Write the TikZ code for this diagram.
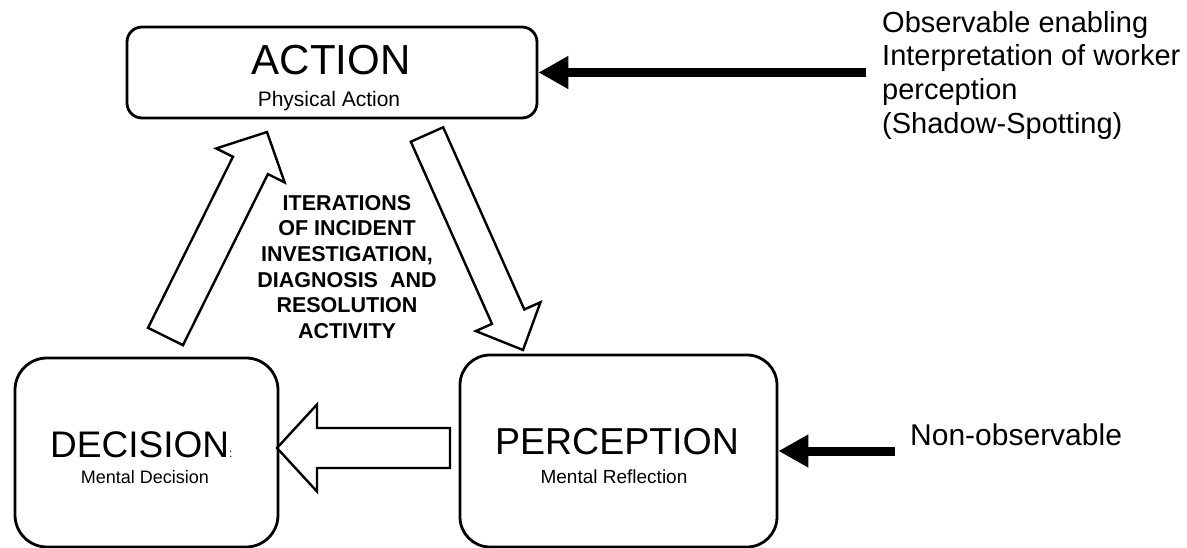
\documentclass[tikz,border=0pt]{standalone}
\usepackage{fontspec}
\setmainfont{Liberation Sans}
\usetikzlibrary{arrows.meta}
\newcommand\fsz[1]{\fontsize{#1pt}{#1pt}\selectfont}
% block arrow: tail x,y ; tip x,y ; shaft half width ; head half width ; head length
\newcommand\blockarrow[7]{%
  \pgfmathsetmacro\baDX{#3-#1}%
  \pgfmathsetmacro\baDY{#4-#2}%
  \pgfmathsetmacro\baAng{atan2(-\baDY,\baDX)}%
  \pgfmathsetmacro\baLen{veclen(\baDX,\baDY)}%
  \begin{scope}[shift={(#1,#2)}, rotate=\baAng]
    \draw[blockarr] (0,-#5) -- (\baLen-#7,-#5) -- (\baLen-#7,-#6) -- (\baLen,0)
      -- (\baLen-#7,#6) -- (\baLen-#7,#5) -- (0,#5) -- cycle;
  \end{scope}}
\begin{document}
\begin{tikzpicture}[x=1pt,y=-1pt,
  box/.style={draw, line width=2.8pt, rounded corners=#1, inner sep=0pt},
  blockarr/.style={draw, line width=2.4pt, fill=white, line join=miter},
  blackarr/.style={line width=9pt, -{Triangle[length=30pt,width=31pt]}},
  lbl/.style={inner sep=0pt, anchor=base}]
\useasboundingbox (0,0) rectangle (1187,548);
\fill[white] (0,0) rectangle (1187,548);

% boxes
\node[box=15pt, minimum width=410pt, minimum height=91pt] (action) at (332,72.5) {};
\node[box=32pt, minimum width=263pt, minimum height=189pt] (decision) at (146.5,452.5) {};
\node[box=30pt, minimum width=317pt, minimum height=192pt] (perception) at (618.5,451) {};

% box texts
\node[lbl, font=\fsz{42}] (actT) at (331,75) {ACTION};
\node[lbl, font=\fsz{21}] (actS) at (329,107) {Physical Action};
\node[lbl, anchor=base west, font=\fsz{37}] (decT) at (50,457) {DECISION{\fsz{12}:}};
\node[lbl, font=\fsz{18}] (decS) at (145,483) {Mental Decision};
\node[lbl, font=\fsz{37.5}] (perT) at (617,454) {PERCEPTION};
\node[lbl, font=\fsz{19}] (perS) at (614,483) {Mental Reflection};

% centre text
\node[inner sep=0pt, anchor=north, align=center, font=\bfseries\fontsize{21.5pt}{25.6pt}\selectfont]
  (iter) at (347,195) {ITERATIONS\\OF INCIDENT\\INVESTIGATION,\\DIAGNOSIS\ \ AND\\RESOLUTION\\ACTIVITY};

% block arrows
\blockarrow{165.5}{336.5}{267}{132}{19.5}{38.2}{37.3}
\blockarrow{427}{134.5}{523}{350}{17.7}{35.4}{36.5}
\blockarrow{450}{448}{277}{448}{20}{43.5}{40}

% side texts
\node[inner sep=0pt, anchor=north west, align=left, font=\fontsize{29pt}{33.7pt}\selectfont]
  (obs) at (882,11) {Observable enabling\\Interpretation of worker\\perception\\(Shadow-Spotting)};
\node[lbl, anchor=base west, font=\fsz{30}] (nonobs) at (910,445) {Non-observable};

% black arrows
\coordinate (obsTail) at (866,72.5);
\coordinate (nonTail) at (895,451);
\draw[blackarr] (obsTail) -- (action.east);
\draw[blackarr] (nonTail) -- (perception.east);
\end{tikzpicture}
\end{document}
